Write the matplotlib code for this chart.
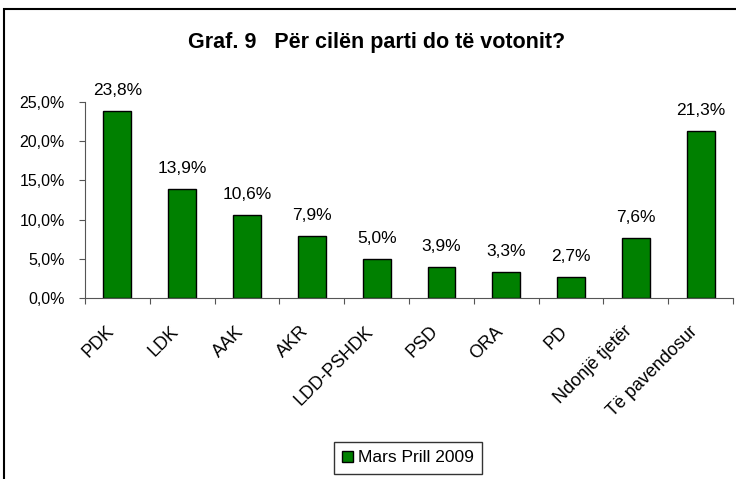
import matplotlib.pyplot as plt
from matplotlib.patches import Rectangle
from matplotlib.ticker import FuncFormatter

plt.rcParams['font.family'] = ['Liberation Sans', 'DejaVu Sans']

# Data
parties = ['PDK', 'LDK', 'AAK', 'AKR', 'LDD-PSHDK', 'PSD', 'ORA', 'PD',
           'Ndonjë tjetër', 'Të pavendosur']
shares = [23.8, 13.9, 10.6, 7.9, 5.0, 3.9, 3.3, 2.7, 7.6, 21.3]
series_name = 'Mars Prill 2009'

fig = plt.figure(figsize=(7.36, 4.79), dpi=100)
ax = fig.add_axes([0.1155, 0.378, 0.8805, 0.409])

x = range(len(parties))
bars = ax.bar(x, shares, width=0.43, color='#008000', edgecolor='black',
              linewidth=1.0, label=series_name)

# value labels above bars
for xi, v in zip(x, shares):
    ax.annotate(f'{v:.1f}%'.replace('.', ','), xy=(xi, v), xytext=(0, 11.5),
                textcoords='offset points', ha='center', va='baseline',
                fontsize=12.5, annotation_clip=False)

ax.set_xlim(-0.5, len(parties) - 0.5)
ax.set_ylim(0, 25)
ax.set_yticks([0, 5, 10, 15, 20, 25])
ax.yaxis.set_major_formatter(FuncFormatter(lambda v, p: f'{v:.1f}%'.replace('.', ',')))
ax.tick_params(axis='y', labelsize=11.5, length=4.5, pad=10, color='#555555')

# category ticks between bars
ax.set_xticks([i - 0.5 for i in range(len(parties) + 1)])
ax.set_xticklabels([])
ax.tick_params(axis='x', length=4.5, color='#555555', direction='out')
for xi, name in zip(x, parties):
    ax.annotate(name, xy=(xi, 0), xycoords=('data', 'axes fraction'),
                xytext=(-8.6, -18), textcoords='offset points', rotation=45,
                ha='right', va='top', rotation_mode='anchor', fontsize=13,
                annotation_clip=False)

ax.spines['top'].set_visible(False)
ax.spines['right'].set_visible(False)
ax.spines['left'].set_color('#555555')
ax.spines['bottom'].set_color('#555555')

fig.text(0.512, 0.912, 'Graf. 9   Për cilën parti do të votonit?', ha='center',
         va='center', fontsize=15.5, fontweight='bold')

leg = ax.legend(loc='center', bbox_to_anchor=(408 / 736, 1 - 458 / 479),
                bbox_transform=fig.transFigure, fontsize=12.5, frameon=True,
                fancybox=False, handlelength=0.6, handleheight=0.6,
                handletextpad=0.3, borderpad=0.5)
leg.get_frame().set_edgecolor('black')
leg.get_frame().set_linewidth(1.0)

# outer chart border
fig.patches.append(Rectangle((4 / 736, -0.05), 1.1, 1 - 9 / 479 + 0.05,
                             transform=fig.transFigure, fill=False,
                             edgecolor='black', linewidth=1.5))

fig.savefig('out.png', dpi=100)
